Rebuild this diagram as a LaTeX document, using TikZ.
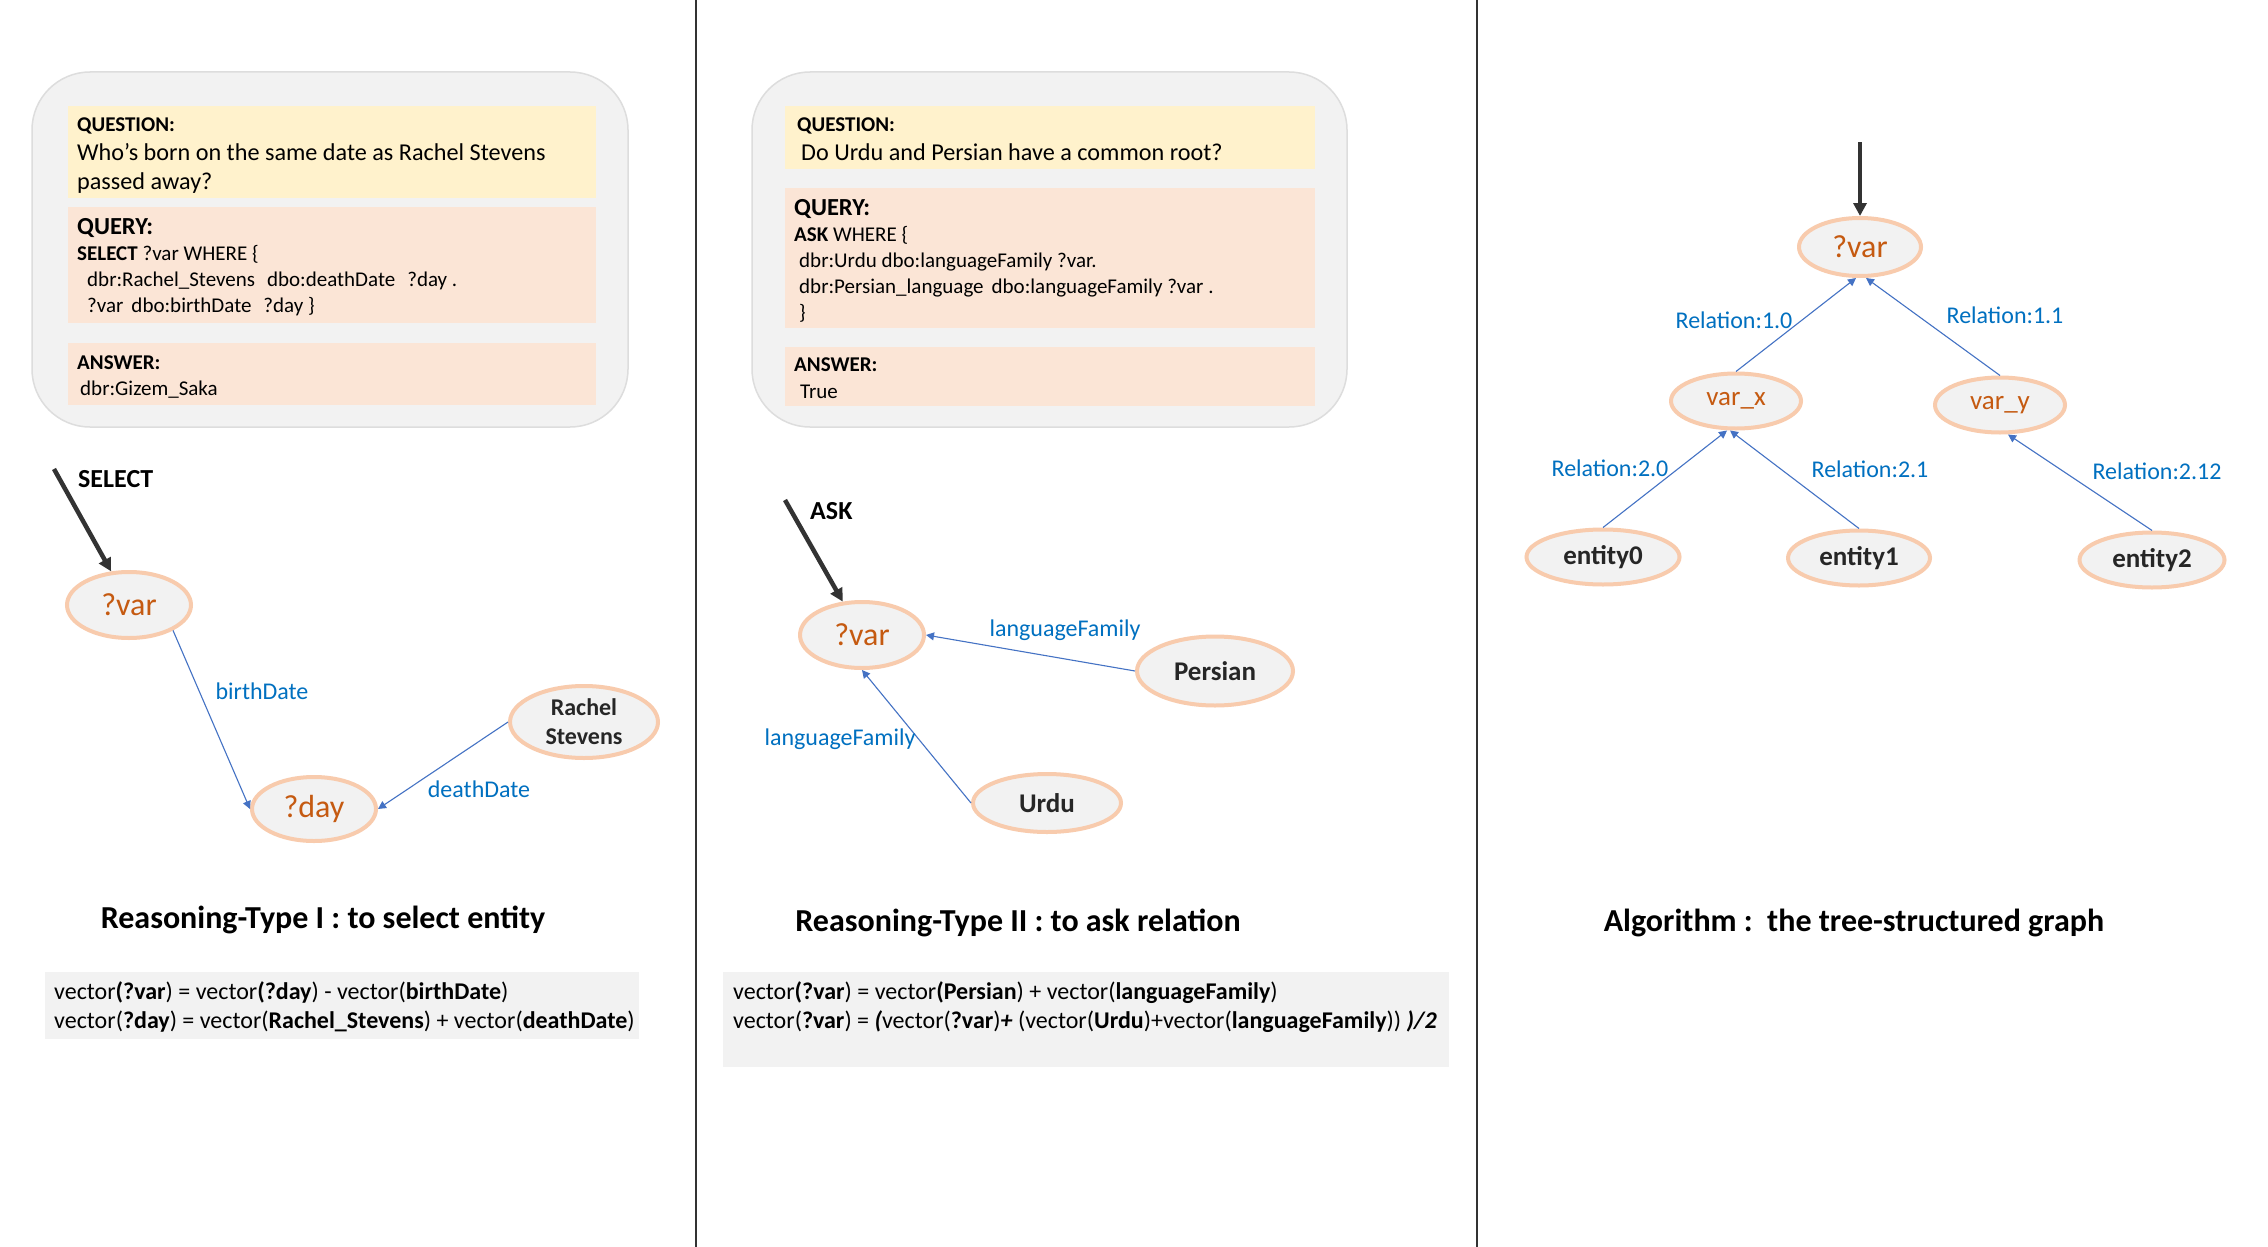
\documentclass[tikz,border=0pt]{standalone}
\usepackage{fontspec}
\setmainfont{Carlito}
\usetikzlibrary{shapes.geometric,arrows.meta}
\definecolor{ellborder}{HTML}{F8CBAD}
\definecolor{ellfill}{HTML}{F2F2F2}
\definecolor{vartext}{HTML}{C55A11}
\definecolor{enttext}{HTML}{262626}
\definecolor{lblblue}{HTML}{0070C0}
\definecolor{edgeblue}{HTML}{4472C4}
\definecolor{qfill}{HTML}{FFF2CC}
\definecolor{afill}{HTML}{FBE5D6}
\definecolor{panelfill}{HTML}{F2F2F2}
\definecolor{panelborder}{HTML}{DDDDDD}
\definecolor{darkline}{HTML}{333333}
\tikzset{
  gnode/.style={ellipse, draw=ellborder, fill=ellfill, line width=4pt, inner sep=0pt},
  varnode/.style={gnode, text=vartext, font=\fontsize{32}{36}\selectfont},
  entnode/.style={gnode, text=enttext, font=\fontsize{27}{30}\selectfont\bfseries, align=center},
  rel/.style={draw=edgeblue, line width=1.1pt, -{Triangle[width=8pt,length=8pt]}},
  bigarrow/.style={draw=darkline, line width=4.5pt, -{Triangle[width=13pt,length=13pt]}},
  lbl/.style={text=lblblue, font=\fontsize{24}{28}\selectfont, inner sep=0pt},
  txt/.style={anchor=base west, inner sep=0pt, font=\fontsize{21}{25}\selectfont},
  txtbig/.style={anchor=base west, inner sep=0pt, font=\fontsize{24.2}{29}\selectfont},
  hdr/.style={anchor=base west, inner sep=0pt, font=\fontsize{21}{25}\selectfont\bfseries},
  hdrbig/.style={anchor=base west, inner sep=0pt, font=\fontsize{24.5}{29}\selectfont\bfseries},
  ttl/.style={inner sep=0pt, font=\fontsize{32}{37}\selectfont\bfseries},
  frm/.style={anchor=base west, inner sep=0pt, font=\fontsize{24}{28}\selectfont},
}
\begin{document}
\begin{tikzpicture}[x=1pt,y=-1pt]
\useasboundingbox (0,0) rectangle (2268,1247);
\fill[white] (0,0) rectangle (2268,1247);
% dividers
\draw[darkline, line width=1.6pt] (696,0) -- (696,1247);
\draw[darkline, line width=1.6pt] (1477,0) -- (1477,1247);

% ---------- left panel ----------
\filldraw[fill=panelfill, draw=panelborder, line width=1.5pt, rounded corners=58pt] (32,72) rectangle (628,427);
\fill[qfill] (68,106) rectangle (596,198);
\fill[afill] (68,207) rectangle (596,323);
\fill[afill] (68,343) rectangle (596,405);
\node[hdr] (lq) at (77,131) {QUESTION:};
\node[txtbig] (lq1) at (77,160) {Who’s born on the same date as Rachel Stevens};
\node[txtbig] (lq2) at (77,189) {passed away?};
\node[hdrbig] (lqy) at (77,234) {QUERY:};
\node[txt] (lqy1) at (77,260) {\textbf{SELECT} ?var WHERE \{};
\node[txt] (lqy2) at (87,286) {dbr:Rachel\_Stevens\hspace{12pt}dbo:deathDate\hspace{12pt}?day .};
\node[txt] (lqy3) at (87,312) {?var\hspace{8pt}dbo:birthDate\hspace{12pt}?day \}};
\node[hdr] (la) at (77,369) {ANSWER:};
\node[txt] (la1) at (80,395) {dbr:Gizem\_Saka};

% left graph
\node[varnode, minimum width=124pt, minimum height=66pt] (v1) at (129,605) {?var};
\node[varnode, minimum width=124pt, minimum height=64pt] (d1) at (314,809) {?day};
\node[entnode, minimum width=148pt, minimum height=72pt, font=\fontsize{24}{29}\selectfont\bfseries] (rs) at (584,722) {Rachel\\Stevens};
\coordinate (selstart) at (54,469);
\draw[bigarrow] (selstart) -- (v1.118);
\node[anchor=west, inner sep=0pt, font=\fontsize{26}{30}\selectfont\bfseries] (sel) at (78,479) {SELECT};
\draw[rel] (v1.-30) -- (d1.west);
\draw[rel] (rs.west) -- (d1.east);
\node[lbl] (lb1) at (262,691) {birthDate};
\node[lbl] (lb2) at (479,789) {deathDate};

\node[ttl] (t1) at (323,920) {Reasoning-Type I : to select entity};
\fill[panelfill] (45,972) rectangle (639,1039);
\node[frm] (f1) at (54,999) {vector\textbf{(?var}) = vector\textbf{(?day}) - vector(\textbf{birthDate})};
\node[frm] (f2) at (54,1028) {vector(\textbf{?day}) = vector(\textbf{Rachel\_Stevens}) + vector(\textbf{deathDate})};

% ---------- middle panel ----------
\filldraw[fill=panelfill, draw=panelborder, line width=1.5pt, rounded corners=58pt] (752,72) rectangle (1347,427);
\fill[qfill] (785,106) rectangle (1315,169);
\fill[afill] (785,188) rectangle (1315,328);
\fill[afill] (785,347) rectangle (1315,406);
\node[hdr] (mq) at (797,131) {QUESTION:};
\node[txtbig] (mq1) at (801,160) {Do Urdu and Persian have a common root?};
\node[hdrbig] (mqy) at (794,215) {QUERY:};
\node[txt] (mqy1) at (794,241) {\textbf{ASK} WHERE \{};
\node[txt] (mqy2) at (799,267) {dbr:Urdu dbo:languageFamily ?var.};
\node[txt] (mqy3) at (799,293) {dbr:Persian\_language\hspace{8pt}dbo:languageFamily ?var .};
\node[txt] (mqy4) at (799,319) {\}};
\node[hdr] (ma) at (794,371) {ANSWER:};
\node[txt] (ma1) at (800,398) {True};

% middle graph
\node[varnode, minimum width=124pt, minimum height=66pt] (v2) at (862,635) {?var};
\node[entnode, minimum width=156pt, minimum height=69pt] (pe) at (1215,671) {Persian};
\node[entnode, minimum width=148pt, minimum height=58pt] (ur) at (1047,803) {Urdu};
\coordinate (askstart) at (785,500);
\draw[bigarrow] (askstart) -- (v2.120);
\node[anchor=west, inner sep=0pt, font=\fontsize{26}{30}\selectfont\bfseries] (ask) at (810,511) {ASK};
\draw[rel] (pe.west) -- (v2.east);
\draw[rel] (ur.west) -- (v2.south);
\node[lbl] (lb3) at (1065,630) {languageFamily};
\node[lbl] (lb4) at (840,739) {languageFamily};

\node[ttl] (t2) at (1018,923) {Reasoning-Type II : to ask relation};
\fill[panelfill] (723,972) rectangle (1449,1067);
\node[frm] (f3) at (733,999) {vector\textbf{(?var}) = vector\textbf{(Persian}) + vector(\textbf{languageFamily})};
\node[frm] (f4) at (733,1028) {vector(\textbf{?var}) = \textbf{\textit{(}}vector(\textbf{?var})\textbf{\textit{+}} (vector(\textbf{Urdu})+vector(\textbf{languageFamily})) \textbf{\textit{)/2}}};

% ---------- right panel ----------
\node[varnode, minimum width=122pt, minimum height=58pt] (r0) at (1860,247) {?var};
\node[varnode, minimum width=130pt, minimum height=55pt, font=\fontsize{27}{31}\selectfont] (vx) at (1736,401) {var\_x};
\node[varnode, minimum width=130pt, minimum height=55pt, font=\fontsize{27}{31}\selectfont] (vy) at (2000,405) {var\_y};
\node[entnode, minimum width=153pt, minimum height=55pt] (e0) at (1603,557) {entity0};
\node[entnode, minimum width=142pt, minimum height=55pt] (e1) at (1859,558) {entity1};
\node[entnode, minimum width=145pt, minimum height=55pt] (e2) at (2152,560) {entity2};
\coordinate (treestart) at (1860,142);
\draw[bigarrow] (treestart) -- (r0.north);
\draw[rel] (vx.north) -- ([xshift=-4pt]r0.south);
\draw[rel] (vy.north) -- ([xshift=6pt]r0.south);
\draw[rel] (e0.north) -- ([xshift=-9pt]vx.south);
\draw[rel] (e1.north) -- ([xshift=-6pt]vx.south);
\draw[rel] (e2.north) -- ([xshift=8pt]vy.south);
\node[lbl] (r10) at (1734,320) {Relation:1.0};
\node[lbl] (r11) at (2005,315) {Relation:1.1};
\node[lbl] (r20) at (1610,468) {Relation:2.0};
\node[lbl] (r21) at (1870,469) {Relation:2.1};
\node[lbl] (r212) at (2157,471) {Relation:2.12};

\node[ttl] (t3) at (1854,923) {Algorithm :\ \ the tree-structured graph};
\end{tikzpicture}
\end{document}
